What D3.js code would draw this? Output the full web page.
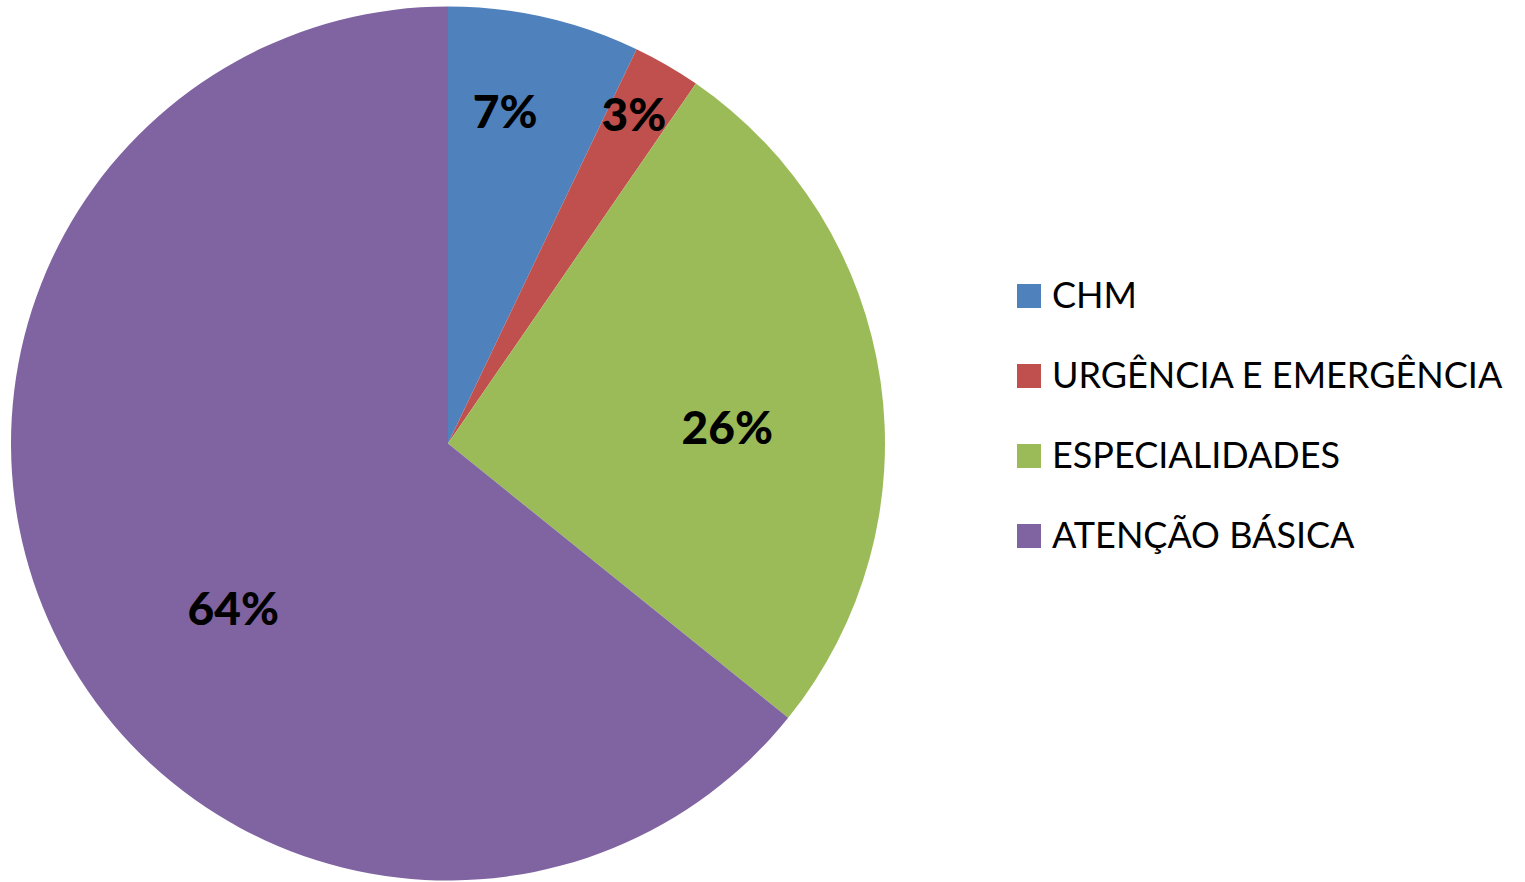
<!DOCTYPE html>
<html>
<head>
<meta charset="utf-8">
<script src="https://cdnjs.cloudflare.com/ajax/libs/d3/7.8.5/d3.min.js"></script>
<style>
  body { margin: 0; background: #fff; }
  svg { display: block; }
</style>
</head>
<body>
<script>
// Chart data
var categories = ["CHM", "URGÊNCIA E EMERGÊNCIA", "ESPECIALIDADES", "ATENÇÃO BÁSICA"];
var values = [7.1, 2.5, 26.2, 64.2];
var labels = ["7%", "3%", "26%", "64%"];
var colors = ["#4F81BD", "#C0504D", "#9BBB59", "#8064A2"];

var width = 1525, height = 882;
var cx = 448, cy = 443.5, radius = 437;

// Where each percentage sits inside its slice: [fraction of radius, angle shift in degrees]
var labelNudge = [[0.77, -3], [0.865, -0.6], [0.64, 5], [0.62, -12]];

var svg = d3.select("body")
            .append("svg")
            .attr("width", width)
            .attr("height", height);

var pie = d3.pie().sort(null).value(function(d) { return d; });
var arcs = pie(values);

var arc = d3.arc().innerRadius(0).outerRadius(radius);

var g = svg.append("g")
           .attr("transform", "translate(" + cx + "," + cy + ")");

// Slices
g.selectAll("path")
  .data(arcs)
  .enter()
  .append("path")
  .attr("d", arc)
  .attr("fill", function(d, i) { return colors[i]; });

// Percentage labels
g.selectAll("text")
  .data(arcs)
  .enter()
  .append("text")
  .attr("x", function(d, i) {
      var a = (d.startAngle + d.endAngle) / 2 + labelNudge[i][1] * Math.PI / 180;
      return Math.sin(a) * radius * labelNudge[i][0];
  })
  .attr("y", function(d, i) {
      var a = (d.startAngle + d.endAngle) / 2 + labelNudge[i][1] * Math.PI / 180;
      return -Math.cos(a) * radius * labelNudge[i][0];
  })
  .attr("dy", "0.36em")
  .attr("text-anchor", "middle")
  .attr("font-family", "Lato, 'Open Sans', sans-serif")
  .attr("font-weight", 900)
  .attr("font-size", 46)
  .attr("fill", "#000")
  .text(function(d, i) { return labels[i]; });

// Legend
var legendY = d3.scalePoint()
    .domain(categories)
    .range([296, 536]);

var legend = svg.append("g")
    .selectAll("g")
    .data(categories)
    .enter()
    .append("g")
    .attr("transform", function(d) { return "translate(1017," + legendY(d) + ")"; });

legend.append("rect")
    .attr("x", 0)
    .attr("y", -12)
    .attr("width", 24)
    .attr("height", 24)
    .attr("fill", function(d, i) { return colors[i]; });

legend.append("text")
    .attr("x", 35)
    .attr("y", 12)
    .attr("font-family", "Lato, 'Open Sans', sans-serif")
    .attr("font-size", 36)
    .attr("fill", "#000")
    .text(function(d) { return d; });
</script>
</body>
</html>
